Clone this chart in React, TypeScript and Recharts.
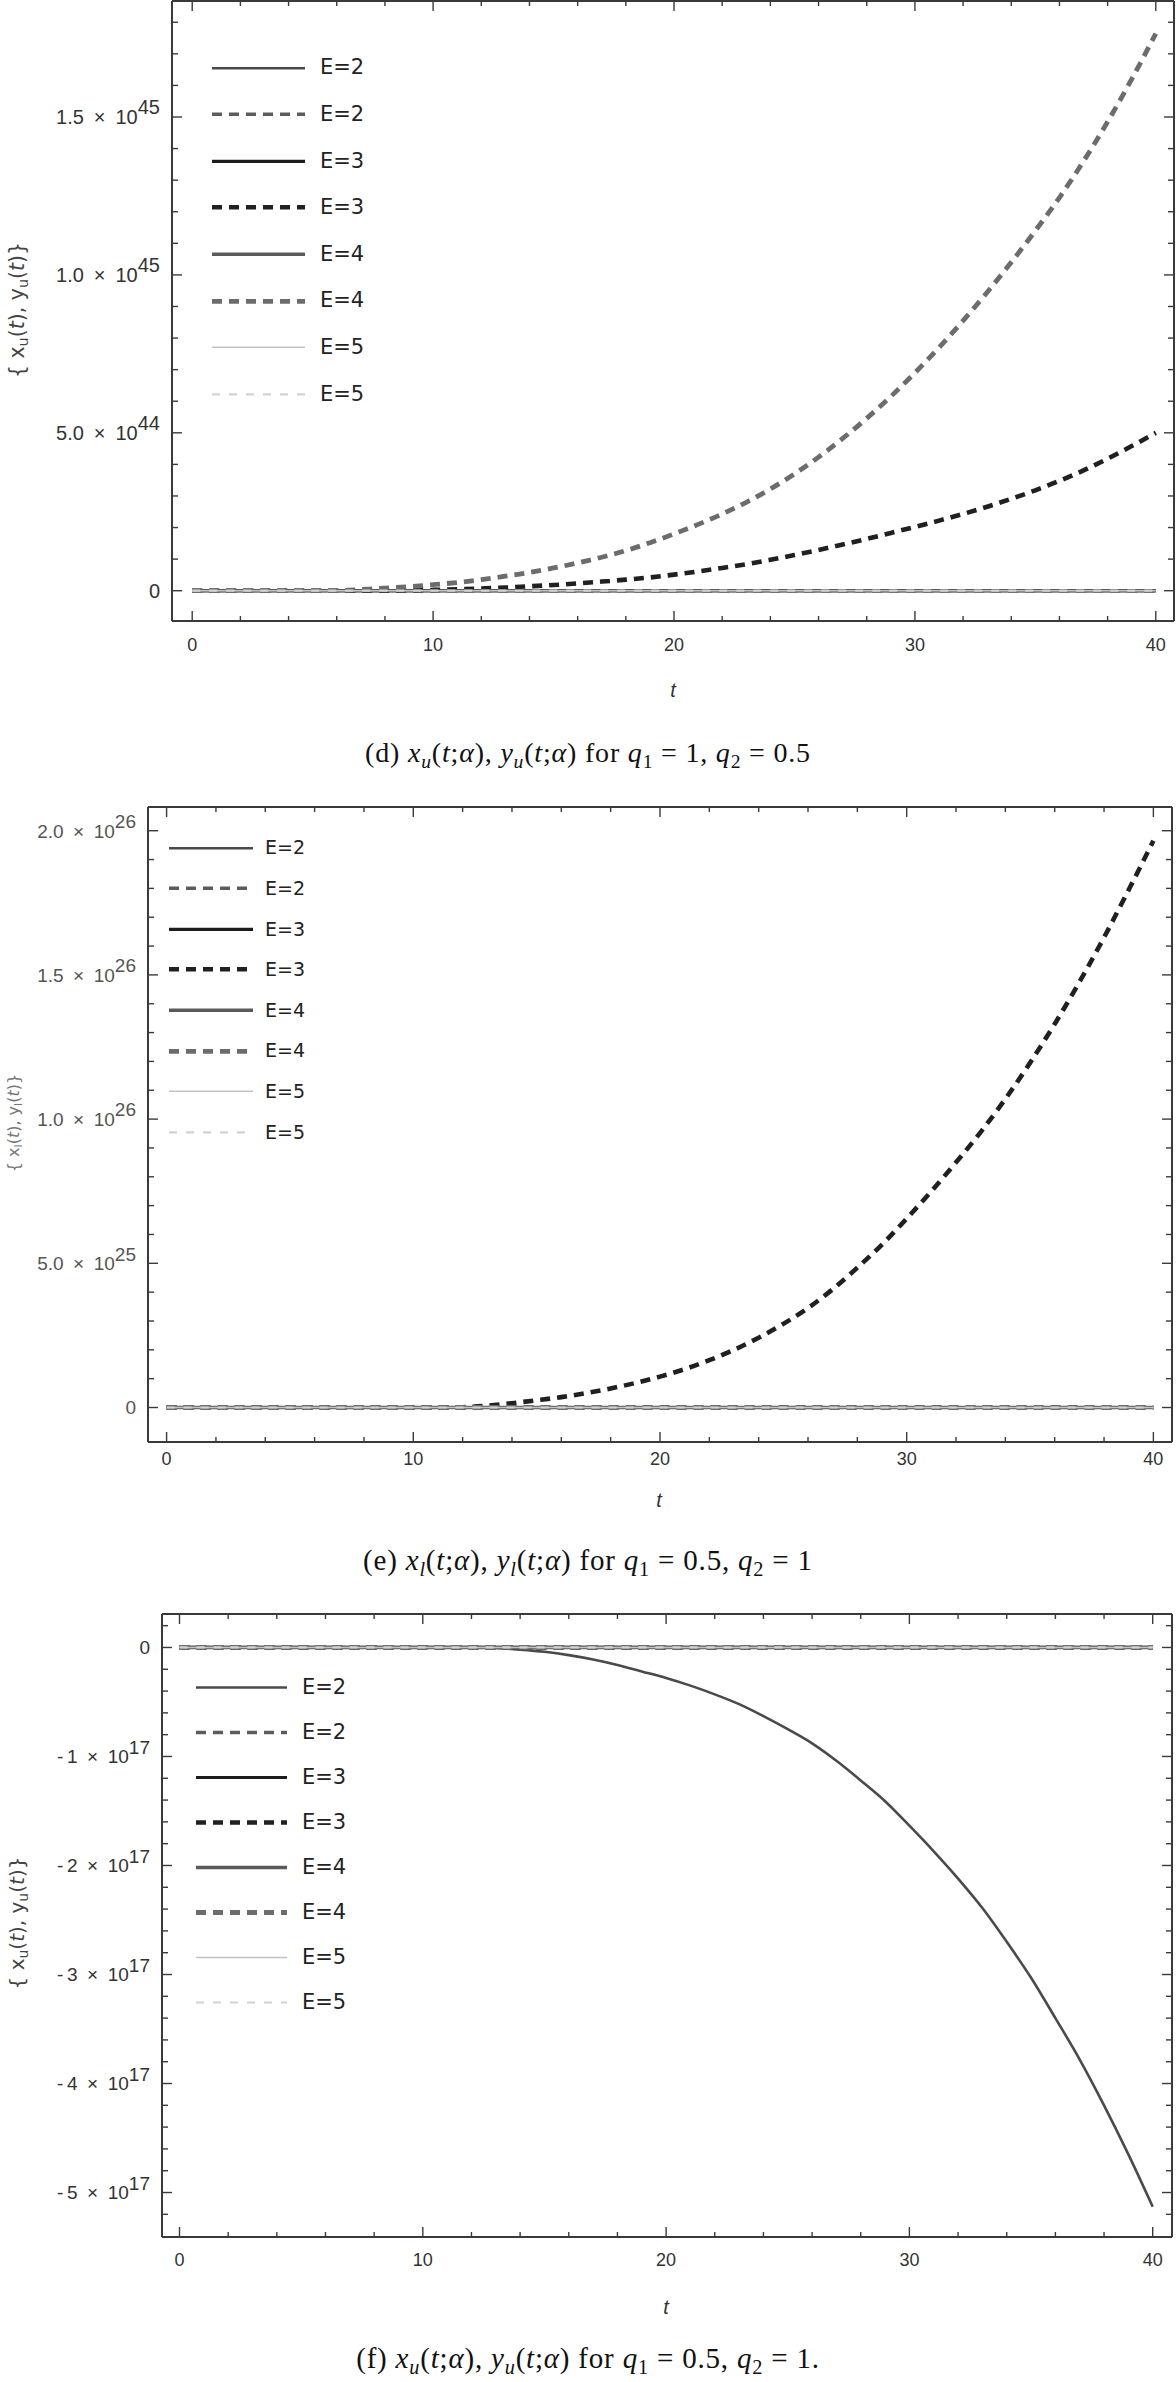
import React from 'react';
import { LineChart, Line, XAxis, YAxis, Legend } from 'recharts';

// ---------- data ----------
const T = [0,1,2,3,4,5,6,7,8,9,10,11,12,13,14,15,16,17,18,19,20,21,22,23,24,25,26,27,28,29,30,31,32,33,34,35,36,37,38,39,40];
const ZERO = [0,0,0,0,0,0,0,0,0,0,0,0,0,0,0,0,0,0,0,0,0,0,0,0,0,0,0,0,0,0,0,0,0,0,0,0,0,0,0,0,0];

// panel (d): values in units of 1e44
const D_UNIT = 1e44;
const D_E3_DASH = [0,0,0,0,0,0,0,0,0,0.01,0.025,0.045,0.07,0.1,0.14,0.18,0.23,0.29,0.35,0.42,0.51,0.61,0.72,0.84,0.98,1.13,1.29,1.46,1.64,1.83,2.02,2.22,2.43,2.66,2.91,3.18,3.48,3.81,4.18,4.58,5.0];
const D_E4_DASH = [0,0,0,0,0,0,0,0.04,0.08,0.13,0.19,0.26,0.35,0.46,0.58,0.72,0.88,1.06,1.27,1.52,1.8,2.1,2.43,2.8,3.22,3.7,4.23,4.82,5.46,6.15,6.9,7.7,8.55,9.45,10.4,11.4,12.45,13.6,14.85,16.2,17.64];

// panel (e): values in units of 1e25
const E_UNIT = 1e25;
const E_E3_DASH = [0,0,0,0,0,0,0,0,0,0,0,0,0.01,0.06,0.15,0.25,0.36,0.5,0.66,0.85,1.07,1.33,1.64,2.0,2.42,2.9,3.45,4.1,4.85,5.65,6.55,7.5,8.5,9.55,10.7,11.95,13.3,14.75,16.3,17.95,19.65];

// panel (f): values in units of 1e17
const F_UNIT = 1e17;
const F_E2_SOLID = [0,0,0,0,0,0,0,0,0,0,0,0,0,-0.005,-0.02,-0.04,-0.07,-0.11,-0.16,-0.22,-0.28,-0.35,-0.43,-0.52,-0.63,-0.75,-0.88,-1.04,-1.22,-1.41,-1.635,-1.87,-2.12,-2.39,-2.7,-3.03,-3.4,-3.78,-4.2,-4.65,-5.13];

// ticks
const X_TICKS = [0,2,4,6,8,10,12,14,16,18,20,22,24,26,28,30,32,34,36,38,40];
const X_MAJOR = [0,10,20,30,40];

const D_Y_TICKS = [0,1,2,3,4,5,6,7,8,9,10,11,12,13,14,15,16,17,18];
const D_Y_LABELS = [{ v: 0, m: '0', e: '' }, { v: 5, m: '5.0', e: '44' }, { v: 10, m: '1.0', e: '45' }, { v: 15, m: '1.5', e: '45' }];
const E_Y_TICKS = [0,1,2,3,4,5,6,7,8,9,10,11,12,13,14,15,16,17,18,19,20];
const E_Y_LABELS = [{ v: 0, m: '0', e: '' }, { v: 5, m: '5.0', e: '25' }, { v: 10, m: '1.0', e: '26' }, { v: 15, m: '1.5', e: '26' }, { v: 20, m: '2.0', e: '26' }];
const F_Y_TICKS = [0.2,0,-0.2,-0.4,-0.6,-0.8,-1,-1.2,-1.4,-1.6,-1.8,-2,-2.2,-2.4,-2.6,-2.8,-3,-3.2,-3.4,-3.6,-3.8,-4,-4.2,-4.4,-4.6,-4.8,-5,-5.2];
const F_Y_LABELS = [{ v: 0, m: '0', e: '' }, { v: -1, m: '-\u20091', e: '17' }, { v: -2, m: '-\u20092', e: '17' }, { v: -3, m: '-\u20093', e: '17' }, { v: -4, m: '-\u20094', e: '17' }, { v: -5, m: '-\u20095', e: '17' }];

const LEGEND_NAMES = ['E=2', 'E=2', 'E=3', 'E=3', 'E=4', 'E=4', 'E=5', 'E=5'];
const SERIES_KEYS = ['e2s', 'e2d', 'e3s', 'e3d', 'e4s', 'e4d', 'e5s', 'e5d'];

// ---------- styles ----------
const SERIES_STYLE: Record<string, { color: string; width: number; dash?: string }> = {
  e2s: { color: '#4a4a4a', width: 2.6 },
  e2d: { color: '#5c5c5c', width: 3.6, dash: '10 7' },
  e3s: { color: '#1c1c1c', width: 3.2 },
  e3d: { color: '#202020', width: 4.6, dash: '10 7' },
  e4s: { color: '#5a5a5a', width: 3.6 },
  e4d: { color: '#6c6c6c', width: 4.8, dash: '10 7' },
  e5s: { color: '#c2c2c2', width: 1.6 },
  e5d: { color: '#d2d2d2', width: 2.2, dash: '8 9' },
};

const AX = '#3a3a3a';
const SANS = '"Liberation Sans", Arial, Helvetica, sans-serif';
const WIDE = '"DejaVu Sans", Verdana, sans-serif';
const SERIF = '"Liberation Serif", "Times New Roman", serif';

function findLabel(labels: any[], u: number) {
  return labels.find((l) => Math.abs(l.v - u) < 1e-6);
}

function makeXTick(side: 'bottom' | 'top', labelDy: number) {
  return (props: any) => {
    const { x, y, payload } = props;
    const v = payload.value;
    const major = X_MAJOR.indexOf(v) >= 0;
    const len = major ? 10 : 5;
    const dir = side === 'bottom' ? -1 : 1;
    return (
      <g>
        <line x1={x} y1={y} x2={x} y2={y + dir * len} stroke={AX} strokeWidth={1.4} />
        {side === 'bottom' && major ? (
          <text x={x} y={y + labelDy} textAnchor="middle" fontFamily={SANS} fontSize={18} fill="#333">
            {String(v)}
          </text>
        ) : null}
      </g>
    );
  };
}

function makeYTick(side: 'left' | 'right', labels: any[], unit: number, font: number, color: string) {
  return (props: any) => {
    const { x, y, payload } = props;
    const u = payload.value / unit;
    const lab = findLabel(labels, u);
    const len = lab ? 10 : 6;
    const dir = side === 'left' ? 1 : -1;
    return (
      <g>
        <line x1={x} y1={y} x2={x + dir * len} y2={y} stroke={AX} strokeWidth={1.4} />
        {side === 'left' && lab ? (
          <text x={x - 12} y={y + font * 0.36} textAnchor="end" fontFamily={SANS} fontSize={font} fill={color}>
            <tspan>{lab.e ? lab.m + '\u2002\u00d7\u200210' : lab.m}</tspan>
            {lab.e ? <tspan dy={-font * 0.5}>{lab.e}</tspan> : null}
          </text>
        ) : null}
      </g>
    );
  };
}

function makeLegend(rowH: number, lineW: number, gap: number, font: number) {
  return (props: any) => {
    const payload: any[] = props.payload || [];
    const items = SERIES_KEYS.map((k, i) => {
      const p = payload.find((e: any) => e.dataKey === k);
      return { key: k, name: p ? p.value : LEGEND_NAMES[i] };
    });
    return (
      <div style={{ fontFamily: WIDE, fontSize: font, color: '#222' }}>
        {items.map((it) => {
          const st = SERIES_STYLE[it.key];
          return (
            <div key={it.key} style={{ height: rowH, display: 'flex', alignItems: 'center' }}>
              <svg width={lineW} height={rowH} style={{ display: 'block' }}>
                <line x1={0} y1={rowH / 2} x2={lineW} y2={rowH / 2} stroke={st.color} strokeWidth={st.width} strokeDasharray={st.dash} />
              </svg>
              <span style={{ marginLeft: gap, lineHeight: 1 }}>{it.name}</span>
            </div>
          );
        })}
      </div>
    );
  };
}

type PanelCfg = {
  top: number;
  height: number;
  mTop: number;
  mRight: number;
  left: number;
  xDomain: [number, number];
  yDomain: [number, number];
  unit: number;
  yTicks: number[];
  yLabels: any[];
  yFont: number;
  yColor: string;
  xLabelDy: number;
  legend: { left: number; top: number; rowH: number; lineW: number; gap: number; font: number };
  series: Record<string, number[]>;
};

function Panel({ cfg }: { cfg: PanelCfg }) {
  const data = T.map((t, i) => {
    const row: any = { t };
    SERIES_KEYS.forEach((k) => {
      row[k] = cfg.series[k][i] * cfg.unit;
    });
    return row;
  });
  const yTicks = cfg.yTicks.map((v) => v * cfg.unit);
  const yDom: [number, number] = [cfg.yDomain[0] * cfg.unit, cfg.yDomain[1] * cfg.unit];
  const lg = cfg.legend;
  return (
    <div style={{ position: 'absolute', left: 0, top: cfg.top }}>
      <LineChart width={1176} height={cfg.height} data={data} margin={{ top: cfg.mTop, right: cfg.mRight, left: 0, bottom: 0 }}>
        <XAxis
          xAxisId="b"
          dataKey="t"
          type="number"
          domain={cfg.xDomain}
          allowDataOverflow
          ticks={X_TICKS}
          interval={0}
          tickLine={false}
          tickSize={0}
          tickMargin={0}
          height={40}
          axisLine={{ stroke: AX, strokeWidth: 2 }}
          tick={makeXTick('bottom', cfg.xLabelDy)}
        />
        <XAxis
          xAxisId="t"
          orientation="top"
          dataKey="t"
          type="number"
          domain={cfg.xDomain}
          allowDataOverflow
          ticks={X_TICKS}
          interval={0}
          tickLine={false}
          tickSize={0}
          tickMargin={0}
          height={1}
          axisLine={{ stroke: AX, strokeWidth: 2 }}
          tick={makeXTick('top', 0)}
        />
        <YAxis
          yAxisId="l"
          type="number"
          domain={yDom}
          allowDataOverflow
          ticks={yTicks}
          interval={0}
          tickLine={false}
          tickSize={0}
          tickMargin={0}
          width={cfg.left}
          axisLine={{ stroke: AX, strokeWidth: 2 }}
          tick={makeYTick('left', cfg.yLabels, cfg.unit, cfg.yFont, cfg.yColor)}
        />
        <YAxis
          yAxisId="r"
          orientation="right"
          type="number"
          domain={yDom}
          allowDataOverflow
          ticks={yTicks}
          interval={0}
          tickLine={false}
          tickSize={0}
          tickMargin={0}
          width={2}
          axisLine={{ stroke: AX, strokeWidth: 2 }}
          tick={makeYTick('right', cfg.yLabels, cfg.unit, cfg.yFont, cfg.yColor)}
        />
        {SERIES_KEYS.map((k, i) => {
          const st = SERIES_STYLE[k];
          return (
            <Line
              key={k}
              xAxisId="b"
              yAxisId="l"
              type="monotone"
              dataKey={k}
              name={LEGEND_NAMES[i]}
              stroke={st.color}
              strokeWidth={st.width}
              strokeDasharray={st.dash}
              dot={false}
              activeDot={false}
              isAnimationActive={false}
            />
          );
        })}
        <Legend
          layout="vertical"
          align="center"
          verticalAlign="middle"
          content={makeLegend(lg.rowH, lg.lineW, lg.gap, lg.font)}
          wrapperStyle={{ left: lg.left, top: lg.top, width: 200, height: lg.rowH * 8 }}
        />
      </LineChart>
    </div>
  );
}

const PANEL_D: PanelCfg = {
  top: 0, height: 661, mTop: 0, mRight: 0, left: 172,
  xDomain: [-0.839, 40.755], yDomain: [-0.959, 18.673], unit: D_UNIT,
  yTicks: D_Y_TICKS, yLabels: D_Y_LABELS, yFont: 20, yColor: '#333', xLabelDy: 30,
  legend: { left: 212, top: 44.7, rowH: 46.6, lineW: 93, gap: 15, font: 21 },
  series: { e2s: ZERO, e2d: ZERO, e3s: ZERO, e3d: D_E3_DASH, e4s: ZERO, e4d: D_E4_DASH, e5s: ZERO, e5d: ZERO },
};

const PANEL_E: PanelCfg = {
  top: 780, height: 702, mTop: 26, mRight: 2, left: 148,
  xDomain: [-0.754, 40.755], yDomain: [-1.196, 20.822], unit: E_UNIT,
  yTicks: E_Y_TICKS, yLabels: E_Y_LABELS, yFont: 19, yColor: '#555', xLabelDy: 23,
  legend: { left: 169, top: 47.7, rowH: 40.6, lineW: 84, gap: 12, font: 19 },
  series: { e2s: ZERO, e2d: ZERO, e3s: ZERO, e3d: E_E3_DASH, e4s: ZERO, e4d: ZERO, e5s: ZERO, e5d: ZERO },
};

const PANEL_F: PanelCfg = {
  top: 1590, height: 687, mTop: 23, mRight: 2, left: 162,
  xDomain: [-0.719, 40.793], yDomain: [-5.408, 0.307], unit: F_UNIT,
  yTicks: F_Y_TICKS, yLabels: F_Y_LABELS, yFont: 19, yColor: '#333', xLabelDy: 29,
  legend: { left: 196, top: 74.5, rowH: 45, lineW: 91, gap: 15, font: 21 },
  series: { e2s: F_E2_SOLID, e2d: ZERO, e3s: ZERO, e3d: ZERO, e4s: ZERO, e4d: ZERO, e5s: ZERO, e5d: ZERO },
};

const subStyle: React.CSSProperties = { fontSize: '0.7em', verticalAlign: '-0.3em', lineHeight: 0 };

function YTitle({ x, y, sub, font, color }: { x: number; y: number; sub: string; font: number; color: string }) {
  return (
    <div
      style={{
        position: 'absolute', left: x, top: y, transform: 'translate(-50%, -50%) rotate(-90deg)',
        fontFamily: WIDE, fontSize: font, color, whiteSpace: 'nowrap', lineHeight: 1,
      }}
    >
      {'{ x'}<span style={subStyle}>{sub}</span>(<i>t</i>), y<span style={subStyle}>{sub}</span>(<i>t</i>){'}'}
    </div>
  );
}

function TLabel({ x, y }: { x: number; y: number }) {
  return (
    <div style={{ position: 'absolute', left: x, top: y, transform: 'translate(-50%, -50%)', fontFamily: SANS, fontStyle: 'italic', fontSize: 20, color: '#333', lineHeight: 1 }}>
      t
    </div>
  );
}

function Caption({ y, letter, sub, q1, q2, tail, font, ls }: { y: number; letter: string; sub: string; q1: string; q2: string; tail: string; font: number; ls: number }) {
  return (
    <div
      style={{
        position: 'absolute', left: 588, top: y, transform: 'translate(-50%, -50%)',
        fontFamily: SERIF, fontSize: font, letterSpacing: ls, color: '#111', whiteSpace: 'nowrap', lineHeight: 1,
      }}
    >
      ({letter}) <i>x</i><span style={subStyle}><i>{sub}</i></span>(<i>t</i>;<i>α</i>), <i>y</i><span style={subStyle}><i>{sub}</i></span>(<i>t</i>;<i>α</i>) for <i>q</i><span style={subStyle}>1</span> = {q1}, <i>q</i><span style={subStyle}>2</span> = {q2}{tail}
    </div>
  );
}

export default function App() {
  return (
    <div style={{ position: 'absolute', left: 0, top: 0, width: 1176, height: 2382, background: '#fff', overflow: 'hidden' }}>
      <Panel cfg={PANEL_D} />
      <Panel cfg={PANEL_E} />
      <Panel cfg={PANEL_F} />
      <YTitle x={17} y={310} sub="u" font={20.5} color="#444" />
      <YTitle x={14} y={1123} sub="l" font={16} color="#777" />
      <YTitle x={17} y={1923} sub="u" font={20} color="#444" />
      <TLabel x={673} y={690} />
      <TLabel x={659} y={1500} />
      <TLabel x={666} y={2307} />
      <Caption y={753} letter="d" sub="u" q1="1" q2="0.5" tail="" font={28} ls={0.8} />
      <Caption y={1560} letter="e" sub="l" q1="0.5" q2="1" tail="" font={29} ls={0.8} />
      <Caption y={2358} letter="f" sub="u" q1="0.5" q2="1" tail="." font={29} ls={0.8} />
    </div>
  );
}
